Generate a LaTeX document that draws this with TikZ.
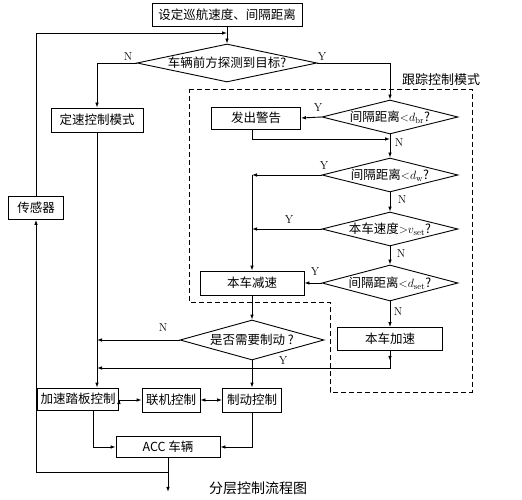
\documentclass[tikz,border=0pt]{standalone}
\usepackage{fontspec}
\newfontfamily\cjk{Noto Sans CJK SC}
\usetikzlibrary{shapes.geometric,arrows.meta}
\begin{document}
\begin{tikzpicture}[x=1pt,y=-1pt,line width=0.9pt,
  >={Latex[length=5pt,width=3.6pt]},
  box/.style={draw,rectangle,inner sep=1pt,font=\cjk\fontsize{12.5}{14}\selectfont},
  dia/.style={draw,diamond,inner sep=0pt,font=\cjk\fontsize{12.5}{14}\selectfont},
  yn/.style={font=\fontsize{11.5}{13}\selectfont,inner sep=0pt},
  captext/.style={font=\cjk\fontsize{13}{15}\selectfont,inner sep=0pt}]
\useasboundingbox (0,0) rectangle (522,500);
% nodes
\node[box,minimum width=150,minimum height=23] (top) at (227,15) {设定巡航速度、间隔距离};
\node[dia,minimum width=180,minimum height=38] (d0) at (227,63) {\makebox[0pt]{车辆前方探测到目标?}};
\node[box,minimum width=92,minimum height=24] (ds) at (97,120) {定速控制模式};
\node[dia,minimum width=136,minimum height=34] (d1) at (390,117) {\makebox[0pt]{间隔距离$\mathord{<}d_{\mathrm{br}}$?}};
\node[box,minimum width=89,minimum height=22] (warn) at (256,118) {发出警告};
\node[dia,minimum width=136,minimum height=34] (d2) at (390,175) {\makebox[0pt]{间隔距离$\mathord{<}d_{\mathrm{w}}$?}};
\node[dia,minimum width=136,minimum height=34] (d3) at (390,229) {\makebox[0pt]{本车速度$\mathord{>}v_{\mathrm{set}}$?}};
\node[dia,minimum width=136,minimum height=36] (d4) at (390,283) {\makebox[0pt]{间隔距离$\mathord{<}d_{\mathrm{set}}$?}};
\node[box,minimum width=104,minimum height=24] (jsu) at (252,283) {本车减速};
\node[box,minimum width=105,minimum height=23] (jia) at (390,339) {本车加速};
\node[dia,minimum width=144,minimum height=40] (d5) at (252,340) {\makebox[0pt]{是否需要制动 ?}};
\node[box,minimum width=81,minimum height=22] (ap) at (78,399) {加速踏板控制};
\node[box,minimum width=58,minimum height=24] (lj) at (171,400) {联机控制};
\node[box,minimum width=59,minimum height=24] (zd) at (252,400) {制动控制};
\node[box,minimum width=104,minimum height=21] (acc) at (168,447) {ACC 车辆};
\node[box,minimum width=55,minimum height=23] (sen) at (36,208) {传感器};
\node[captext] (mode) at (441,80) {跟踪控制模式};
\node[captext,font=\cjk\fontsize{14}{16}\selectfont] (title) at (258,488) {分层控制流程图};
% dashed region
\draw[dash pattern=on 5pt off 3pt] (189,89) -- (472,89) -- (472,392) -- (330,392) -- (330,302) -- (189,302) -- cycle;
% coordinates
\coordinate (m1) at (390,139);
\coordinate (c2) at (252,175);
\coordinate (m2) at (97,368);
\coordinate (b1) at (168,472);
\coordinate (t1) at (227,33);
% connectors
\draw[->] (top) -- (d0);
\draw[->] (d0.west) -| (ds.north);
\draw[->] (d0.east) -| (d1.north);
\draw[->] (d1.west) -- (warn.east);
\draw[->] (warn.south -| jsu.center) |- (m1);
\draw[->] (d1.south) -- (d2.north);
\draw[->] (d2.west) -- (c2);
\draw[->] (c2) -- (jsu.north);
\draw[->] (d2.south) -- (d3.north);
\draw[->] (d3.west) -- (d3.west -| jsu.center);
\draw[->] (d3.south) -- (d4.north);
\draw[->] (d4.west) -- (jsu.east);
\draw[->] (d4.south) -- (jia.north);
\draw[->] (jsu.south) -- (d5.north);
\draw[->] (d5.west) -- (d5.west -| ds.center);
\draw[->] (ds.south) -- (ds.south |- ap.north);
\draw[->] (jia.south) -- ++(0,10);
\draw[->] (jia.south) |- (m2);
\draw[->] (d5.south) -- (zd.north);
\draw[<->] (ap.east) -- (lj.west -| ap.east) -- (lj.west);
\draw[<->] (lj.east) -- (zd.west);
\draw[->] ([xshift=15pt]ap.south) |- (acc.west);
\draw[->] (zd.south) |- (acc.east);
\draw[->] (acc.south) -- ++(0,34);
\draw[->] (b1) -| (sen.south);
\draw[->] (sen.north) |- (t1);
% labels
\node[yn] at (128,57) {N};
\node[yn] at (322,57) {Y};
\node[yn] at (318,108) {Y};
\node[yn] at (399,143) {N};
\node[yn] at (324,166) {Y};
\node[yn] at (402,200) {N};
\node[yn] at (289,220) {Y};
\node[yn] at (401,254) {N};
\node[yn] at (315,272) {Y};
\node[yn] at (398,312) {N};
\node[yn] at (163,328) {N};
\node[yn] at (283,361) {Y};
\end{tikzpicture}
\end{document}
